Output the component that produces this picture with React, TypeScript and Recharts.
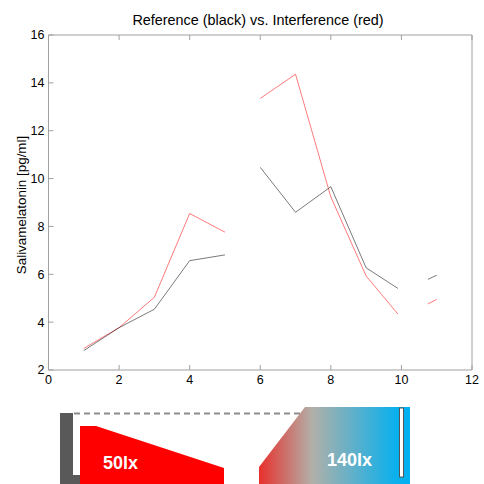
import React from 'react';
import { LineChart, Line, XAxis, YAxis } from 'recharts';

const xValues = [1, 2, 3, 4, 5, 5.5, 6, 7, 8, 9, 9.9, 10.3, 10.75, 11];
const referenceValues = [2.81, 3.77, 4.54, 6.57, 6.81, null, 10.47, 8.59, 9.66, 6.27, 5.41, null, 5.79, 5.96];
const interferenceValues = [2.9, 3.77, 5.04, 8.54, 7.76, null, 13.35, 14.36, 9.23, 5.93, 4.34, null, 4.76, 4.95];
const xTicks = [0, 2, 4, 6, 8, 10, 12];
const yTicks = [2, 4, 6, 8, 10, 12, 14, 16];

const data = xValues.map((x, i) => ({ x, reference: referenceValues[i], interference: interferenceValues[i] }));

const FONT = '"Liberation Sans", Arial, sans-serif';
const AXIS = '#a0a0a0';

export default function App() {
  return (
    <div style={{ position: 'absolute', left: 0, top: 0, width: 484, height: 484, background: '#fff', fontFamily: FONT }}>
      <div style={{ position: 'absolute', left: 0, top: 0, width: 484, height: 400 }}>
        <LineChart width={484} height={400} data={data} margin={{ top: 34, right: 11, bottom: 0, left: 0.5 }}>
          <XAxis
            xAxisId="b"
            dataKey="x"
            type="number"
            domain={[0, 12]}
            ticks={xTicks}
            orientation="bottom"
            height={30}
            stroke={AXIS}
            tickSize={-5}
            tickMargin={10}
            tick={{ fill: '#000', fontSize: 12.5, fontFamily: FONT }}
          />
          <XAxis
            xAxisId="t"
            dataKey="x"
            type="number"
            domain={[0, 12]}
            ticks={xTicks}
            orientation="top"
            height={1}
            stroke={AXIS}
            tickSize={-5}
            tickFormatter={() => ''}
          />
          <YAxis
            yAxisId="l"
            type="number"
            domain={[2, 16]}
            ticks={yTicks}
            orientation="left"
            width={48}
            stroke={AXIS}
            tickSize={-5}
            tickMargin={9}
            tick={{ fill: '#000', fontSize: 12.5, fontFamily: FONT }}
          />
          <YAxis
            yAxisId="r"
            type="number"
            domain={[2, 16]}
            ticks={yTicks}
            orientation="right"
            width={1}
            stroke={AXIS}
            tickSize={-5}
            tickFormatter={() => ''}
          />
          <Line xAxisId="b" yAxisId="l" dataKey="interference" stroke="#ff0000" strokeOpacity={0.75} strokeWidth={0.7} dot={false} isAnimationActive={false} connectNulls={false} />
          <Line xAxisId="b" yAxisId="l" dataKey="reference" stroke="#000000" strokeOpacity={0.75} strokeWidth={0.7} dot={false} isAnimationActive={false} connectNulls={false} />
          <text x={258} y={25} textAnchor="middle" fontSize={14.4} fontFamily={FONT} fill="#000">Reference (black) vs. Interference (red)</text>
          <text x={26} y={205} transform="rotate(-90, 26, 205)" textAnchor="middle" fontSize={13.4} fontFamily={FONT} fill="#000">Salivamelatonin [pg/ml]</text>
        </LineChart>
      </div>
      <svg width={484} height={484} style={{ position: 'absolute', left: 0, top: 0, pointerEvents: 'none' }}>
        <defs>
          <linearGradient id="lux" x1="259" y1="0" x2="410" y2="0" gradientUnits="userSpaceOnUse">
            <stop offset="0" stopColor="#e8302c" />
            <stop offset="0.35" stopColor="#b2b0a8" />
            <stop offset="0.9" stopColor="#0cb0ec" />
            <stop offset="1" stopColor="#00b0f0" />
          </linearGradient>
        </defs>
        <rect x={60} y={413} width={20} height={71} fill="#595959" />
        <rect x={73} y={413} width={7} height={62} fill="#fff" />
        <line x1={74} y1={413.5} x2={302} y2={413.5} stroke="#8c8c8c" strokeWidth={2} strokeDasharray="6 4" />
        <polygon points="80,426 96,426 224,468 224,484 80,484" fill="#ff0000" />
        <text x={103} y={469} fontSize={18} fontWeight="bold" fill="#fff" fontFamily={FONT}>50lx</text>
        <polygon points="259,484 259,467 305,407 410,407 410,484" fill="url(#lux)" />
        <rect x={399.5} y={408} width={4} height={69} fill="#fff" stroke="#555" strokeWidth={1} />
        <text x={327} y={466} fontSize={18} fontWeight="bold" fill="#fff" fontFamily={FONT}>140lx</text>
      </svg>
    </div>
  );
}
